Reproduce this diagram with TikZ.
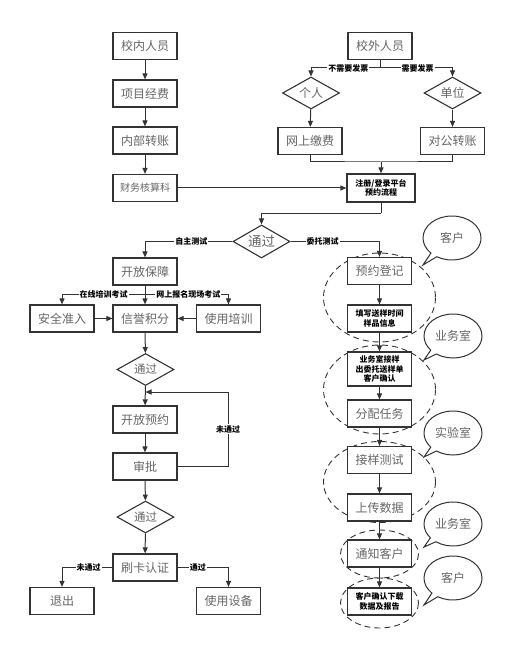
\documentclass[tikz,border=0pt]{standalone}
\usepackage{fontspec}
\setmainfont{Noto Sans CJK SC}
\usetikzlibrary{arrows.meta,shapes.geometric,shapes.callouts}
\definecolor{linec}{HTML}{333333}
\definecolor{txtc}{HTML}{666666}
\tikzset{
  box/.style={draw=linec, line width=1.2pt, minimum width=64pt, minimum height=27pt, inner sep=1pt, font=\fontsize{12}{14}\selectfont, text=txtc, fill=white},
  sbox/.style={box, font=\fontsize{8}{9.5}\selectfont\bfseries, text=black, align=center},
  dia/.style={diamond, draw=linec, line width=1.1pt, minimum width=57pt, minimum height=32pt, inner sep=0pt, aspect=1.8, font=\fontsize{12}{14}\selectfont, text=txtc, fill=white},
  ln/.style={draw=linec, line width=1pt},
  arr/.style={ln, -{Triangle[length=6pt,width=5pt]}},
  lab/.style={fill=white, inner sep=1pt, font=\fontsize{8}{9}\selectfont\bfseries, text=black},
  grp/.style={draw=linec, line width=0.9pt, dash pattern=on 6pt off 4pt},
  bub/.style={ellipse callout, draw=linec, line width=1pt, minimum width=58pt, minimum height=44pt, inner sep=0pt, font=\fontsize{12}{14}\selectfont, text=txtc, fill=white}
}
\begin{document}
\begin{tikzpicture}[x=1pt,y=-1pt]
\useasboundingbox (0,0) rectangle (519,652);
% dashed groups
\draw[grp] (379.5,297.5) ellipse [x radius=56, y radius=44.5];
\draw[grp] (379.5,389.5) ellipse [x radius=56, y radius=44.5];
\draw[grp] (379.5,482) ellipse [x radius=56, y radius=40.5];
\draw[grp] (379.5,554) ellipse [x radius=39, y radius=24];
\draw[grp] (379.5,603) ellipse [x radius=39, y radius=25];
% left top
\node[box] (xn) at (145,46) {校内人员};
\node[box] (xm) at (145,93.5) {项目经费};
\node[box] (nb) at (145,140.5) {内部转账};
\node[box, font=\fontsize{10}{12}\selectfont] (cw) at (145,188) {财务核算科};
% right top
\node[box] (xw) at (380,46) {校外人员};
\node[dia] (gr) at (311,93) {个人};
\node[dia] (dw) at (452.5,93) {单位};
\node[box] (ws) at (310,141) {网上缴费};
\node[box] (dg) at (452.5,141) {对公转账};
\node[sbox, minimum width=68pt, minimum height=28pt] (zc) at (381,188) {注册/登录平台\\预约流程};
\node[dia, minimum height=33pt, font=\fontsize{13.5}{15}\selectfont] (t1) at (261.5,241.5) {通过};
% left branch
\node[box] (kb) at (145,271.5) {开放保障};
\node[box] (aq) at (62,318.5) {安全准入};
\node[box] (xy) at (145,318.5) {信誉积分};
\node[box] (sy) at (228.5,318.5) {使用培训};
\node[dia, font=\fontsize{11.5}{13}\selectfont] (t2) at (145.5,369.5) {通过};
\node[box] (ky) at (145,419.5) {开放预约};
\node[box] (sp) at (145,466.5) {审批};
\node[dia, font=\fontsize{11.5}{13}\selectfont] (t3) at (145.5,517) {通过};
\node[box] (sk) at (145,567.5) {刷卡认证};
\node[box] (tc) at (62,601) {退出};
\node[box] (sb) at (228.5,601) {使用设备};
% right branch
\node[box] (yy) at (379.5,271) {预约登记};
\node[sbox] (tx) at (379.5,318.5) {填写送样时间\\样品信息};
\node[sbox, minimum height=34pt] (yw) at (379.5,369) {业务室接样\\出委托送样单\\客户确认};
\node[box] (fp) at (379.5,413.5) {分配任务};
\node[box] (jy) at (379.5,460) {接样测试};
\node[box] (sc) at (379.5,507.5) {上传数据};
\node[box] (tz) at (379.5,553.5) {通知客户};
\node[sbox] (kq) at (379.5,601.5) {客户确认下载\\数据及报告};
% callouts
\node[bub, callout absolute pointer={(423,265)}] (c1) at (452,238) {客户};
\node[bub, callout absolute pointer={(424,360)}] (c2) at (453,336) {业务室};
\node[bub, callout absolute pointer={(424,457)}] (c3) at (453,433) {实验室};
\node[bub, callout absolute pointer={(424,547)}] (c4) at (453,524) {业务室};
\node[bub, callout absolute pointer={(424,605)}] (c5) at (453,578) {客户};
% coordinates
\coordinate (b1) at (380,68);
\coordinate (jn) at (381,162);
\coordinate (b3) at (381,213);
\coordinate (b2) at (145,294);
\coordinate (lc) at (228,466.5);
\coordinate (lp) at (145.5,392);
% connectors left top
\draw[arr] (xn) -- (xm);
\draw[arr] (xm) -- (nb);
\draw[arr] (nb) -- (cw);
\draw[arr] (cw) -- (zc);
% right top
\draw[ln] (xw.south) -- (b1);
\draw[arr] (b1) -| node[lab, pos=0.23]{不需要发票} (gr.north);
\draw[arr] (b1) -| node[lab, pos=0.26]{需要发票} (dw.north);
\draw[arr] (gr) -- (ws);
\draw[arr] (dw) -- (dg);
\draw[ln] (ws.south) |- (jn) -| (dg.south);
\draw[arr] (jn) -- (zc);
\draw[ln] (zc.south) -- (b3);
\draw[arr] (b3) -| (t1.north);
\draw[arr] (t1.west) -| node[lab, pos=0.235]{自主测试} (kb.north);
\draw[arr] (t1.east) -| node[lab, pos=0.18]{委托测试} (yy.north);
% left branch
\draw[arr] (kb) -- (xy);
\draw[arr] (b2) -| node[lab, pos=0.25]{在线培训考试} (aq.north);
\draw[arr] (b2) -| node[lab, pos=0.26]{网上报名现场考试} (sy.north);
\draw[arr] (aq) -- (xy);
\draw[arr] (sy) -- (xy);
\draw[arr] (xy) -- (t2);
\draw[arr] (t2) -- (ky);
\draw[arr] (ky) -- (sp);
\draw[arr] (sp.east) -- (lc) |- node[lab, pos=0.25]{未通过} (lp);
\draw[arr] (sp) -- (t3);
\draw[arr] (t3) -- (sk);
\draw[arr] (sk.west) -| node[lab, pos=0.235]{未通过} (tc.north);
\draw[arr] (sk.east) -| node[lab, pos=0.2]{通过} (sb.north);
% right branch
\draw[arr] (yy) -- (tx);
\draw[arr] (tx) -- (yw);
\draw[arr] (yw) -- (fp);
\draw[arr] (fp) -- (jy);
\draw[arr] (jy) -- (sc);
\draw[arr] (sc) -- (tz);
\draw[arr] (tz) -- (kq);
\end{tikzpicture}
\end{document}
